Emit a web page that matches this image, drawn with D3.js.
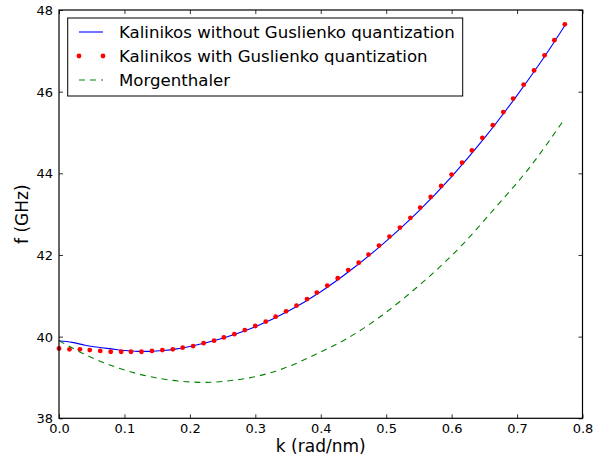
<!DOCTYPE html>
<html>
<head>
<meta charset="utf-8">
<script src="https://cdn.jsdelivr.net/npm/d3@7"></script>
<style>
  html, body { margin: 0; padding: 0; background: #fff; }
  svg { display: block; font-family: "DejaVu Sans", sans-serif; }
</style>
</head>
<body>
<svg id="chart" width="609" height="458"></svg>
<script>
// ---- data ----
const kDots = [0, 0.016, 0.032, 0.047, 0.063, 0.079, 0.095, 0.110, 0.126, 0.142,
  0.158, 0.174, 0.189, 0.205, 0.221, 0.237, 0.252, 0.268, 0.284, 0.300,
  0.316, 0.331, 0.347, 0.363, 0.379, 0.394, 0.410, 0.426, 0.442, 0.458,
  0.473, 0.489, 0.505, 0.521, 0.537, 0.552, 0.568, 0.584, 0.600, 0.616,
  0.631, 0.647, 0.663, 0.679, 0.694, 0.710, 0.726, 0.742, 0.757, 0.773];
const fDots = [39.71, 39.69, 39.69, 39.67, 39.65, 39.63, 39.63, 39.63, 39.63, 39.65,
  39.67, 39.69, 39.73, 39.77, 39.84, 39.90, 39.98, 40.06, 40.16, 40.26,
  40.37, 40.49, 40.62, 40.76, 40.92, 41.08, 41.25, 41.43, 41.63, 41.81,
  42.01, 42.23, 42.45, 42.67, 42.91, 43.16, 43.42, 43.69, 43.97, 44.26,
  44.56, 44.87, 45.18, 45.50, 45.83, 46.17, 46.52, 46.89, 47.26, 47.65];

const kLine = [0, 0.02, 0.04, 0.06, 0.08, 0.10, 0.12, 0.14, 0.16, 0.18, 0.20,
  0.25, 0.30, 0.35, 0.40, 0.45, 0.50, 0.55, 0.60, 0.65, 0.70, 0.75, 0.773];
const fLine = [39.90, 39.86, 39.79, 39.74, 39.70, 39.66, 39.64, 39.64, 39.66, 39.70, 39.76,
  39.96, 40.24, 40.62, 41.10, 41.68, 42.34, 43.08, 43.92, 44.86, 45.91, 47.05, 47.62];

const kMorg = [0, 0.047, 0.093, 0.139, 0.185, 0.22, 0.266, 0.300, 0.343, 0.394,
  0.445, 0.496, 0.547, 0.592, 0.618, 0.669, 0.720, 0.772];
const fMorg = [39.90, 39.51, 39.22, 39.02, 38.91, 38.88, 38.93, 39.02, 39.22, 39.58,
  40.00, 40.55, 41.21, 41.86, 42.28, 43.20, 44.16, 45.32];

const xTicks = [0, 0.1, 0.2, 0.3, 0.4, 0.5, 0.6, 0.7, 0.8];
const yTicks = [38, 40, 42, 44, 46, 48];
const seriesNames = ["Kalinikos without Guslienko quantization",
  "Kalinikos with Guslienko quantization", "Morgenthaler"];

// ---- layout ----
const svg = d3.select("#chart");
const L = 59, R = 582.5, T = 10, B = 418.3;
const x = d3.scaleLinear().domain([0, 0.8]).range([L, R]);
const y = d3.scaleLinear().domain([38, 48]).range([B, T]);

const lineGen = d3.line().x(d => x(d[0])).y(d => y(d[1])).curve(d3.curveMonotoneX);

// blue line
svg.append("path")
  .datum(kLine.map((k, i) => [k, fLine[i]]))
  .attr("d", lineGen).attr("fill", "none")
  .attr("stroke", "#0000ff").attr("stroke-width", 1.1);

// red dots
svg.append("g").selectAll("circle")
  .data(kDots.map((k, i) => [k, fDots[i]]))
  .join("circle")
  .attr("cx", d => x(d[0])).attr("cy", d => y(d[1]))
  .attr("r", 2.4).attr("fill", "#ff0000");

// green dashed
svg.append("path")
  .datum(kMorg.map((k, i) => [k, fMorg[i]]))
  .attr("d", lineGen).attr("fill", "none")
  .attr("stroke", "#008000").attr("stroke-width", 1.1)
  .attr("stroke-dasharray", "6,5");

// axes
const fmtX = d3.format(".1f");
const axB = svg.append("g").attr("transform", `translate(0,${B})`)
  .call(d3.axisBottom(x).tickValues(xTicks).tickFormat(fmtX).tickSize(-4).tickPadding(5));
const axT = svg.append("g").attr("transform", `translate(0,${T})`)
  .call(d3.axisTop(x).tickValues(xTicks).tickFormat("").tickSize(-4));
const axL = svg.append("g").attr("transform", `translate(${L},0)`)
  .call(d3.axisLeft(y).tickValues(yTicks).tickFormat(d3.format("d")).tickSize(-4).tickPadding(6));
const axR = svg.append("g").attr("transform", `translate(${R},0)`)
  .call(d3.axisRight(y).tickValues(yTicks).tickFormat("").tickSize(-4));
[axB, axT, axL, axR].forEach(a => {
  a.select(".domain").remove();
  a.selectAll("line").attr("stroke", "#000").attr("stroke-width", 0.8);
  a.selectAll("text").attr("font-size", 13).attr("fill", "#000")
    .attr("font-family", "DejaVu Sans, sans-serif");
});
axL.selectAll("text").attr("dy", "0.34em");
axB.selectAll("text").attr("dy", "0.72em");

// frame
svg.append("rect").attr("x", L).attr("y", T).attr("width", R - L).attr("height", B - T)
  .attr("fill", "none").attr("stroke", "#000").attr("stroke-width", 1.2);

// axis labels
svg.append("text").attr("x", (L + R) / 2).attr("y", 451.5)
  .attr("text-anchor", "middle").attr("font-size", 17).text("k (rad/nm)");
svg.append("text").attr("transform", `translate(22,${(T + B) / 2}) rotate(-90)`)
  .attr("text-anchor", "middle").attr("dy", "0.35em").attr("font-size", 17).text("f (GHz)");

// legend
const lg = svg.append("g");
lg.append("rect").attr("x", 67.7).attr("y", 18).attr("width", 395).attr("height", 78)
  .attr("fill", "#fff").attr("stroke", "#000").attr("stroke-width", 1);
const rows = [32, 56, 80];
lg.append("line").attr("x1", 79).attr("x2", 103).attr("y1", rows[0]).attr("y2", rows[0])
  .attr("stroke", "#0000ff").attr("stroke-width", 1.1);
[79, 103].forEach(cx => lg.append("circle").attr("cx", cx).attr("cy", rows[1])
  .attr("r", 2.4).attr("fill", "#ff0000"));
lg.append("line").attr("x1", 79).attr("x2", 103).attr("y1", rows[2]).attr("y2", rows[2])
  .attr("stroke", "#008000").attr("stroke-width", 1.1).attr("stroke-dasharray", "6,5");
seriesNames.forEach((s, i) => {
  lg.append("text").attr("x", 119).attr("y", rows[i]).attr("dy", "0.36em")
    .attr("font-size", 16.6).text(s);
});
</script>
</body>
</html>
